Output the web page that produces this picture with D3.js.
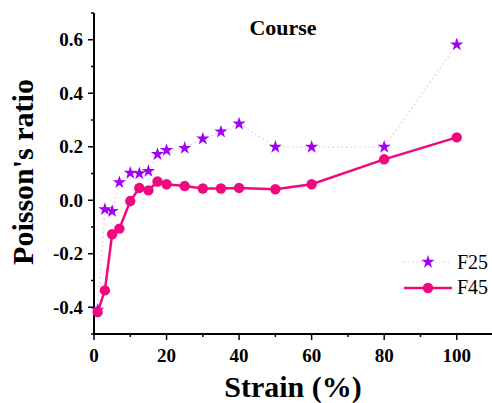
<!DOCTYPE html>
<html><head><meta charset="utf-8">
<script src="https://cdn.jsdelivr.net/npm/d3@7"></script>
<style>body{margin:0;background:#fff}svg{display:block}</style>
</head><body><svg id="c" width="492" height="403"></svg>
<script>
const strainF25 = [1, 3, 5, 7, 10, 12.5, 15, 17.5, 20, 25, 30, 35, 40, 50, 60, 80, 100];
const valuesF25 = [-0.41, -0.034, -0.041, 0.067, 0.102, 0.100, 0.109, 0.172, 0.187, 0.195, 0.230, 0.256, 0.286, 0.199, 0.199, 0.199, 0.582];
const strainF45 = [1, 3, 5, 7, 10, 12.5, 15, 17.5, 20, 25, 30, 35, 40, 50, 60, 80, 100];
const valuesF45 = [-0.418, -0.337, -0.127, -0.106, -0.003, 0.046, 0.037, 0.070, 0.060, 0.053, 0.044, 0.044, 0.046, 0.041, 0.060, 0.153, 0.235];
const xTicks = [0, 20, 40, 60, 80, 100];
const yTicks = [-0.4, -0.2, 0.0, 0.2, 0.4, 0.6];
const seriesNames = ["F25", "F45"];

const FONT = "Liberation Serif";
const svg = d3.select("#c");
const x = d3.scaleLinear().domain([0, 110]).range([94, 493]);
const y = d3.scaleLinear().domain([-0.5, 0.7]).range([334, 13]);
const purple = "#a100f2", pink = "#f0087f";
const T = (g) => g.append("text").attr("font-family", FONT).attr("fill", "#000");
const fmtY = v => d3.format(".1f")(v).replace("\u2212", "-");

// axes
const xAxis = svg.append("g").attr("transform", "translate(0,334)");
xAxis.append("line").attr("x1", 93).attr("x2", 492).attr("stroke", "#000").attr("stroke-width", 2);
d3.range(0, 111, 10).forEach(v => {
  xAxis.append("line").attr("x1", x(v)).attr("x2", x(v)).attr("y1", 0).attr("y2", v % 20 === 0 ? 6 : 3)
    .attr("stroke", "#000").attr("stroke-width", 1.5);
});
xTicks.forEach(v => {
  T(xAxis).attr("x", x(v)).attr("y", 28).attr("text-anchor", "middle")
    .attr("font-size", 19).attr("font-weight", "bold").text(String(v));
});
const yAxis = svg.append("g").attr("transform", "translate(94,0)");
yAxis.append("line").attr("y1", 13).attr("y2", 335).attr("stroke", "#000").attr("stroke-width", 2);
d3.range(-5, 8).forEach(i => {
  const v = i / 10;
  yAxis.append("line").attr("y1", y(v)).attr("y2", y(v)).attr("x1", 0).attr("x2", i % 2 === 0 ? -6 : -3)
    .attr("stroke", "#000").attr("stroke-width", 1.5);
});
yTicks.forEach(v => {
  T(yAxis).attr("x", -11).attr("y", y(v)).attr("dy", "0.35em").attr("text-anchor", "end")
    .attr("font-size", 19).attr("font-weight", "bold").text(fmtY(v));
});

// titles
T(svg).attr("x", 293).attr("y", 397).attr("text-anchor", "middle")
  .attr("font-size", 30).attr("font-weight", "bold").text("Strain (%)");
T(svg).attr("transform", "translate(33,172) rotate(-90)").attr("text-anchor", "middle")
  .attr("font-size", 30).attr("font-weight", "bold").text("Poisson's ratio");
T(svg).attr("x", 283).attr("y", 35).attr("text-anchor", "middle")
  .attr("font-size", 22).attr("font-weight", "bold").text("Course");

const star = d3.symbol().type(d3.symbolStar).size(55);
const line = d3.line().x(d => x(d[0])).y(d => y(d[1]));
const d25 = strainF25.map((s, i) => [s, valuesF25[i]]);
const d45 = strainF45.map((s, i) => [s, valuesF45[i]]);

svg.append("path").attr("d", line(d25)).attr("fill", "none").attr("stroke", "#ecc8ff")
  .attr("stroke-width", 1.5).attr("stroke-dasharray", "1.5,3");
svg.append("path").attr("d", line(d45)).attr("fill", "none").attr("stroke", pink).attr("stroke-width", 2.5);
svg.selectAll(".s25").data(d25).enter().append("path").attr("d", star)
  .attr("transform", d => `translate(${x(d[0])},${y(d[1])})`).attr("fill", purple);
svg.selectAll(".c45").data(d45).enter().append("circle")
  .attr("cx", d => x(d[0])).attr("cy", d => y(d[1])).attr("r", 5.2).attr("fill", pink);

// legend
const lg = svg.append("g");
lg.append("line").attr("x1", 403).attr("x2", 449).attr("y1", 262).attr("y2", 262)
  .attr("stroke", "#ecc8ff").attr("stroke-width", 1.5).attr("stroke-dasharray", "1.5,3");
lg.append("path").attr("d", star).attr("transform", "translate(428,262)").attr("fill", purple);
lg.append("line").attr("x1", 404).attr("x2", 452).attr("y1", 288).attr("y2", 288)
  .attr("stroke", pink).attr("stroke-width", 2.5);
lg.append("circle").attr("cx", 428).attr("cy", 288).attr("r", 5.2).attr("fill", pink);
T(lg).attr("x", 457).attr("y", 269).attr("font-size", 20).text(seriesNames[0]);
T(lg).attr("x", 457).attr("y", 294).attr("font-size", 20).text(seriesNames[1]);
</script></body></html>
